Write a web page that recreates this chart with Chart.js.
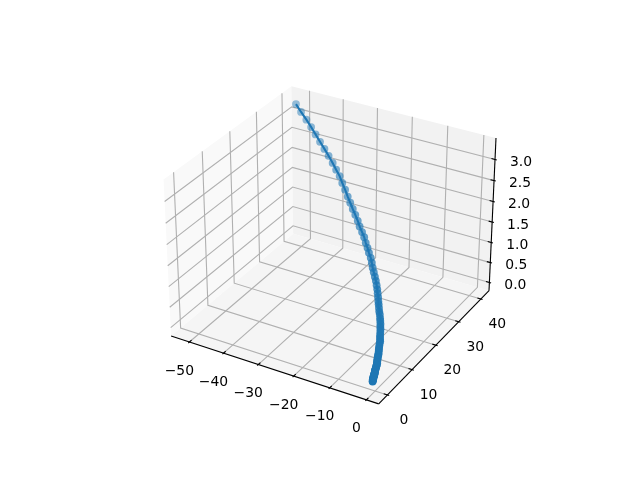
<!DOCTYPE html>
<html>
<head>
    <meta charset="utf-8">
    <title>3D trajectory</title>
    <script src="https://cdn.jsdelivr.net/npm/chart.js"></script>
    <style>
        html, body { margin: 0; background: #fff; }
        canvas { display: block; }
    </style>
</head>
<body>
    <canvas id="chart" width="640" height="480"></canvas>
    <script>
        // axis limits and ticks
        const xLim = [-54.25, 2.15];
        const yLim = [-2.46, 42.86];
        const zLim = [-0.133, 3.427];
        const xTicks = [-50, -40, -30, -20, -10, 0];
        const yTicks = [0, 10, 20, 30, 40];
        const zTicks = [0, 0.5, 1, 1.5, 2, 2.5, 3];
        const xTickLabels = ['\u221250', '\u221240', '\u221230', '\u221220', '\u221210', '0'];
        const yTickLabels = ['0', '10', '20', '30', '40'];
        const zTickLabels = ['0.0', '0.5', '1.0', '1.5', '2.0', '2.5', '3.0'];

        // trajectory
        const pathX = [-0.7, -0.8, -0.9, -1.0, -1.0, -1.1, -1.2, -1.3, -1.3, -1.4,
            -1.5, -1.5, -1.6, -1.7, -1.8, -1.9, -2.0, -2.0, -2.1, -2.2,
            -2.3, -2.4, -2.5, -2.7, -2.8, -3.0, -3.1, -3.3,
            -3.4, -3.6, -3.8, -4.0, -4.2, -4.4, -4.6, -4.8, -5.1, -5.4,
            -5.7, -6.0, -6.3, -6.7, -7.0, -7.4, -7.8, -8.3, -8.8, -9.3,
            -9.8, -10.3, -10.8, -11.4, -12.0, -12.6, -13.3, -14.0,
            -14.8, -15.6, -16.4, -17.2, -18.2, -19.1, -20.1, -21.1, -22.2, -23.4,
            -24.5, -25.7, -27.0, -28.3, -29.6, -31.0, -32.4, -33.8, -35.4, -37.0,
            -38.7, -40.5, -42.3, -44.2, -46.1, -48.1, -50.2, -52.3];
        const pathY = [0.0, 0.2, 0.4, 0.5, 0.7, 0.9, 1.0, 1.2, 1.4, 1.5,
            1.7, 1.9, 2.1, 2.3, 2.5, 2.7, 2.9, 3.1, 3.3, 3.6,
            3.8, 4.1, 4.4, 4.6, 4.9, 5.2, 5.5, 5.8,
            6.2, 6.5, 6.9, 7.2, 7.6, 8.0, 8.4, 8.9, 9.3, 9.7,
            10.2, 10.7, 11.2, 11.7, 12.2, 12.7, 13.2, 13.8, 14.3, 14.9,
            15.5, 16.1, 16.7, 17.4, 18.1, 18.7, 19.4, 20.0,
            20.7, 21.4, 22.2, 22.9, 23.6, 24.3, 25.0, 25.8, 26.5, 27.2,
            28.0, 28.7, 29.5, 30.3, 31.1, 32.0, 32.8, 33.7, 34.5, 35.3,
            36.0, 36.8, 37.5, 38.3, 39.1, 39.9, 40.6, 41.4];
        const pathZ = [0.00, 0.00, 0.01, 0.01, 0.01, 0.02, 0.02, 0.02, 0.03, 0.03,
            0.04, 0.04, 0.05, 0.05, 0.06, 0.07, 0.07, 0.08, 0.09, 0.10,
            0.10, 0.11, 0.12, 0.13, 0.14, 0.16, 0.17, 0.18,
            0.20, 0.21, 0.23, 0.24, 0.26, 0.28, 0.30, 0.32, 0.34, 0.36,
            0.38, 0.41, 0.44, 0.46, 0.49, 0.52, 0.55, 0.59, 0.62, 0.66,
            0.70, 0.73, 0.78, 0.82, 0.86, 0.91, 0.96, 1.01,
            1.06, 1.11, 1.17, 1.23, 1.29, 1.35, 1.41, 1.48, 1.54, 1.61,
            1.68, 1.76, 1.83, 1.91, 1.99, 2.08, 2.17, 2.26, 2.34, 2.43,
            2.53, 2.62, 2.72, 2.82, 2.92, 3.02, 3.13, 3.24];

        // mplot3d default camera
        const deg = Math.PI / 180;
        const elev = 30 * deg, azim = -60 * deg, dist = 10;
        const boxScale = 1.8294640721620434 / Math.hypot(4, 4, 3);
        const box = [4 * boxScale, 4 * boxScale, 3 * boxScale];

        function norm3(v) { const n = Math.hypot(v[0], v[1], v[2]); return v.map(c => c / n); }
        function cross(a, b) { return [a[1]*b[2]-a[2]*b[1], a[2]*b[0]-a[0]*b[2], a[0]*b[1]-a[1]*b[0]]; }
        function dot(a, b) { return a[0]*b[0]+a[1]*b[1]+a[2]*b[2]; }

        const ps = [Math.cos(elev)*Math.cos(azim), Math.cos(elev)*Math.sin(azim), Math.sin(elev)];
        const eye = box.map((b, i) => b / 2 + dist * ps[i]);
        const w = norm3(ps);
        const u = norm3(cross([0, 0, 1], w));
        const v = cross(w, u);

        function project(x, y, z) {
            const p = [
                (x - xLim[0]) / (xLim[1] - xLim[0]) * box[0] - eye[0],
                (y - yLim[0]) / (yLim[1] - yLim[0]) * box[1] - eye[1],
                (z - zLim[0]) / (zLim[1] - zLim[0]) * box[2] - eye[2]
            ];
            const depth = -dot(w, p);
            return { x: dot(u, p) / depth, y: dot(v, p) / depth, depth: depth };
        }

        // panes reach 1/48 of the range past the limits
        const xPane = [xLim[0] - (xLim[1]-xLim[0])/48, xLim[1] + (xLim[1]-xLim[0])/48];
        const yPane = [yLim[0] - (yLim[1]-yLim[0])/48, yLim[1] + (yLim[1]-yLim[0])/48];
        const zPane = [zLim[0] - (zLim[1]-zLim[0])/48, zLim[1] + (zLim[1]-zLim[0])/48];
        const xFront = xPane[1], xBack = xPane[0], yFront = yPane[0], yBack = yPane[1], zLow = zPane[0], zTop = zPane[1];

        const datasets = [];
        function addLine(points, color, width) {
            datasets.push({
                data: points.map(p => project(p[0], p[1], p[2])),
                showLine: true, borderColor: color, borderWidth: width,
                pointRadius: 0, fill: false, borderCapStyle: 'butt'
            });
        }
        function addPane(points, color) {
            datasets.push({
                data: points.concat([points[0]]).map(p => project(p[0], p[1], p[2])),
                showLine: true, borderWidth: 0, borderColor: 'transparent',
                backgroundColor: color, fill: 'shape', pointRadius: 0
            });
        }

        addPane([[xBack, yFront, zLow], [xBack, yBack, zLow], [xBack, yBack, zTop], [xBack, yFront, zTop]], '#f9f9f9');
        addPane([[xBack, yBack, zLow], [xFront, yBack, zLow], [xFront, yBack, zTop], [xBack, yBack, zTop]], '#f2f2f2');
        addPane([[xBack, yFront, zLow], [xFront, yFront, zLow], [xFront, yBack, zLow], [xBack, yBack, zLow]], '#f5f5f5');

        const gridColor = '#b0b0b0', gridWidth = 1.11;
        xTicks.forEach(t => addLine([[t, yFront, zLow], [t, yBack, zLow], [t, yBack, zTop]], gridColor, gridWidth));
        yTicks.forEach(t => addLine([[xFront, t, zLow], [xBack, t, zLow], [xBack, t, zTop]], gridColor, gridWidth));
        zTicks.forEach(t => addLine([[xBack, yFront, t], [xBack, yBack, t], [xFront, yBack, t]], gridColor, gridWidth));

        addLine([[xBack, yFront, zLow], [xFront, yFront, zLow]], '#000', 1.11);
        addLine([[xFront, yFront, zLow], [xFront, yBack, zLow]], '#000', 1.11);
        addLine([[xFront, yBack, zLow], [xFront, yBack, zTop]], '#000', 1.11);

        const xDelta = (xPane[1]-xPane[0]) / 12, yDelta = (yPane[1]-yPane[0]) / 12;
        xTicks.forEach(t => addLine([[t, yFront - 0.1*yDelta, zLow], [t, yFront + 0.2*yDelta, zLow]], '#000', 1.11));
        yTicks.forEach(t => addLine([[xFront + 0.1*xDelta, t, zLow], [xFront - 0.2*xDelta, t, zLow]], '#000', 1.11));
        zTicks.forEach(t => addLine([[xFront + 0.1*xDelta, yBack, t], [xFront - 0.2*xDelta, yBack, t]], '#000', 1.11));

        const pathPoints = pathX.map((x, i) => project(x, pathY[i], pathZ[i]));
        // depth shading: far points fade out
        const depths = pathPoints.map(p => p.depth);
        const nearDepth = Math.min(...depths), farDepth = Math.max(...depths);
        const pointColors = depths.map(d => `rgba(31,119,180,${1 - 0.55 * (d - nearDepth) / (farDepth - nearDepth)})`);
        datasets.push({
            data: pathPoints, showLine: true, borderColor: '#1f77b4', borderWidth: 2.08, fill: false,
            pointRadius: 3.9, pointBorderWidth: 0, pointBackgroundColor: pointColors
        });
        datasets.forEach((d, i) => { d.order = -i; });

        const tickText = {
            id: 'tickText',
            afterDraw(chart) {
                const { ctx, scales } = chart;
                ctx.save();
                ctx.font = '13.9px "DejaVu Sans"';
                ctx.fillStyle = '#000';
                ctx.textAlign = 'center';
                ctx.textBaseline = 'middle';
                const put = (p, label, dx, dy) => ctx.fillText(label,
                    scales.x.getPixelForValue(p.x) + dx, scales.y.getPixelForValue(p.y) + dy);
                xTicks.forEach((t, i) => put(project(t, yFront, zLow), xTickLabels[i], -10, 29));
                yTicks.forEach((t, i) => put(project(xFront, t, zLow), yTickLabels[i], 16.5, 25.5));
                zTicks.forEach((t, i) => put(project(xFront, yBack, t), zTickLabels[i], 26, 3));
                ctx.restore();
            }
        };

        new Chart(document.getElementById('chart'), {
            type: 'scatter',
            data: { datasets: datasets },
            options: {
                responsive: false,
                animation: false,
                layout: { padding: { left: 143.2, right: 127.2, top: 57.6, bottom: 52.8 } },
                scales: {
                    x: { display: false, min: -0.095, max: 0.09 },
                    y: { display: false, min: -0.095, max: 0.09 }
                },
                plugins: { legend: { display: false }, tooltip: { enabled: false } }
            },
            plugins: [tickText]
        });
    </script>
</body>
</html>
